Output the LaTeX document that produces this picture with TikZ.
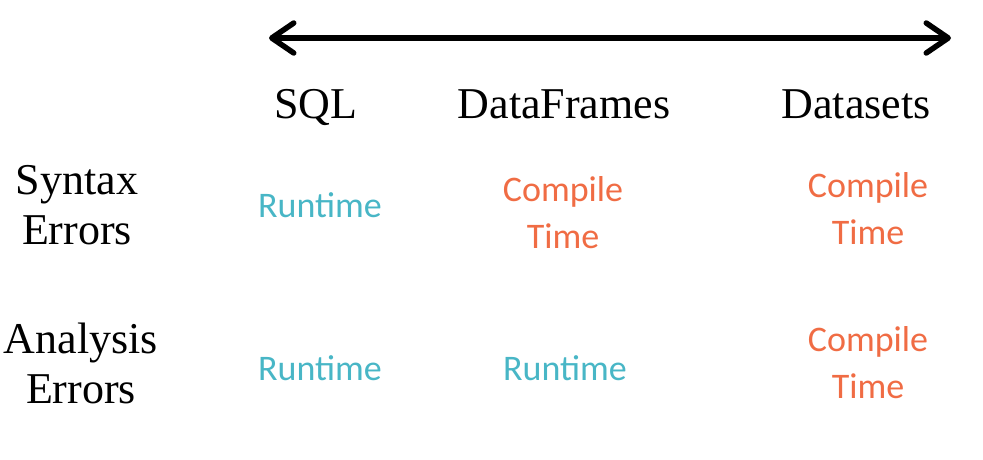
\documentclass[tikz,border=0pt]{standalone}
\usepackage{fontspec}
\setmainfont{Liberation Serif}
\newfontfamily\calib{Carlito}
\usetikzlibrary{arrows.meta}
\definecolor{runcol}{RGB}{72,182,198}
\definecolor{compcol}{RGB}{240,108,68}
\begin{document}
\begin{tikzpicture}[x=1pt, y=-1pt,
  head/.style={font=\fontsize{44}{50}\selectfont, inner sep=0pt, align=center},
  run/.style={font=\calib\fontsize{36}{47}\selectfont, text=runcol, inner sep=0pt, align=center},
  comp/.style={font=\calib\fontsize{36}{47}\selectfont, text=compcol, inner sep=0pt, align=center}]
  \useasboundingbox (0,0) rectangle (983,459);

  \coordinate (L) at (269, 38);
  \coordinate (R) at (951, 38);
  \draw[line width=5.5pt, {Straight Barb[round, length=22pt, width=30pt]}-{Straight Barb[round, length=22pt, width=30pt]}] (L) -- (R);

  \node[head, anchor=base] (SQL) at (316, 118) {SQL};
  \node[head, anchor=base] (DF) at (564, 118) {DataFrames};
  \node[head, anchor=base] (DS) at (856, 118) {Datasets};

  \node[head] (SYN) at (77, 205) {Syntax\\Errors};
  \node[head] (ANA) at (81, 363) {Analysis\\Errors};

  \node[run, anchor=base] (SQLsyn) at (320, 217) {Runtime};
  \node[comp] (DFsyn) at (563, 213) {Compile\\Time};
  \node[comp] (DSsyn) at (868, 209) {Compile\\Time};

  \node[run, anchor=base] (SQLana) at (320, 380) {Runtime};
  \node[run, anchor=base] (DFana) at (565, 380) {Runtime};
  \node[comp] (DSana) at (868, 363) {Compile\\Time};
\end{tikzpicture}
\end{document}
